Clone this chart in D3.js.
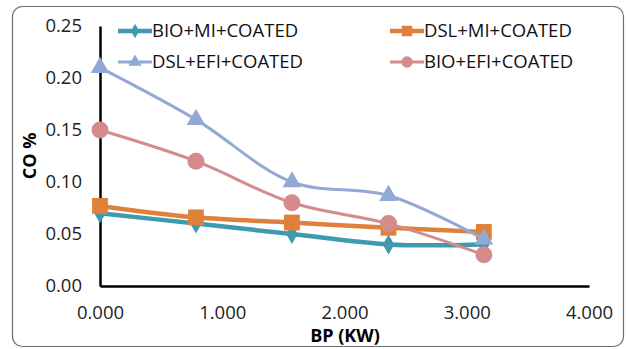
<!DOCTYPE html>
<html>
<head>
<meta charset="utf-8">
<script src="https://cdn.jsdelivr.net/npm/d3@7"></script>
<style>
  body { margin: 0; background: #fff; }
  svg { display: block; font-family: "Open Sans", sans-serif; }
</style>
</head>
<body>
<div id="chart"></div>
<script>
// Brake power values (KW)
const bp = [0, 0.785, 1.57, 2.36, 3.14];
const xTicks = [0, 1, 2, 3, 4];
const yTicks = [0, 0.05, 0.10, 0.15, 0.20, 0.25];

const bioMi = [0.07, 0.06, 0.05, 0.04, 0.04];
const dslMi = [0.077, 0.066, 0.061, 0.056, 0.052];
const dslEfi = [0.21, 0.16, 0.10, 0.087, 0.045];
const bioEfi = [0.15, 0.12, 0.08, 0.06, 0.03];

const seriesNames = ["BIO+MI+COATED", "DSL+MI+COATED", "DSL+EFI+COATED", "BIO+EFI+COATED"];

const W = 626, H = 349;
const margin = { top: 26, right: 37, bottom: 63, left: 100 };

const series = [
  { name: seriesNames[0], values: bioMi, color: "#3f9ab0", width: 4.5, symbol: d3.symbolDiamond, size: 115, lsize: 60 },
  { name: seriesNames[1], values: dslMi, color: "#e0813b", width: 4.5, symbol: d3.symbolSquare, size: 250, lsize: 110 },
  { name: seriesNames[2], values: dslEfi, color: "#93a9d5", width: 3, symbol: d3.symbolTriangle, size: 150, lsize: 75 },
  { name: seriesNames[3], values: bioEfi, color: "#d48b8b", width: 3, symbol: d3.symbolCircle, size: 227, lsize: 100 }
];

const svg = d3.select("#chart").append("svg")
  .attr("width", W)
  .attr("height", H);

// chart area border
svg.append("rect")
  .attr("x", 12.5).attr("y", 6.5)
  .attr("width", 611).attr("height", 340)
  .attr("rx", 10)
  .attr("fill", "#fff")
  .attr("stroke", "#6e6e6e")
  .attr("stroke-width", 1.2);

const x = d3.scaleLinear().domain([0, 4]).range([margin.left, W - margin.right]);
const y = d3.scaleLinear().domain([0, 0.25]).range([H - margin.bottom, margin.top]);

// Y axis
const yAxis = svg.append("g")
  .attr("transform", "translate(" + margin.left + ",0)")
  .call(d3.axisLeft(y).tickValues(yTicks).tickSize(0).tickPadding(18).tickFormat(d3.format(".2f")));
yAxis.select(".domain").attr("stroke", "#000").attr("stroke-width", 2.5);
yAxis.selectAll("text").attr("font-size", 18.5).attr("fill", "#222").attr("font-family", "Open Sans");

// X axis
const xAxis = svg.append("g")
  .attr("transform", "translate(0," + (H - margin.bottom) + ")")
  .call(d3.axisBottom(x).tickValues(xTicks).tickSize(0).tickPadding(20).tickFormat(d3.format(".3f")));
xAxis.select(".domain").attr("stroke", "#000").attr("stroke-width", 2.5);
xAxis.selectAll("text").attr("font-size", 18.5).attr("fill", "#222").attr("font-family", "Open Sans");

// axis titles
svg.append("text")
  .attr("x", 345).attr("y", 342)
  .attr("text-anchor", "middle")
  .attr("font-size", 18).attr("font-weight", "bold")
  .text("BP (KW)");

svg.append("text")
  .attr("transform", "translate(36,156) rotate(-90)")
  .attr("text-anchor", "middle")
  .attr("font-size", 18).attr("font-weight", "bold")
  .text("CO %");

// lines and markers
const line = d3.line()
  .x((d, i) => x(bp[i]))
  .y(d => y(d))
  .curve(d3.curveCatmullRom.alpha(0.5));

series.forEach(s => {
  svg.append("path")
    .datum(s.values)
    .attr("d", line)
    .attr("fill", "none")
    .attr("stroke", s.color)
    .attr("stroke-width", s.width)
    .attr("stroke-linejoin", "round");
  svg.selectAll(null)
    .data(s.values)
    .enter()
    .append("path")
    .attr("d", d3.symbol().type(s.symbol).size(s.size))
    .attr("transform", (d, i) => "translate(" + x(bp[i]) + "," + y(d) + ")")
    .attr("fill", s.color);
});

// legend
const legendPos = [
  { x: 118, y: 31 },
  { x: 390, y: 31 },
  { x: 118, y: 62 },
  { x: 390, y: 62 }
];
series.forEach((s, i) => {
  const p = legendPos[i];
  const g = svg.append("g").attr("transform", "translate(" + p.x + "," + p.y + ")");
  g.append("line")
    .attr("x1", 0).attr("x2", 34)
    .attr("stroke", s.color).attr("stroke-width", s.width);
  g.append("path")
    .attr("d", d3.symbol().type(s.symbol).size(s.lsize))
    .attr("transform", "translate(17,0)")
    .attr("fill", s.color);
  g.append("text")
    .attr("x", 34).attr("y", 0)
    .attr("dy", "0.35em")
    .attr("font-size", 18.5)
    .attr("fill", "#111")
    .text(s.name);
});
</script>
</body>
</html>
